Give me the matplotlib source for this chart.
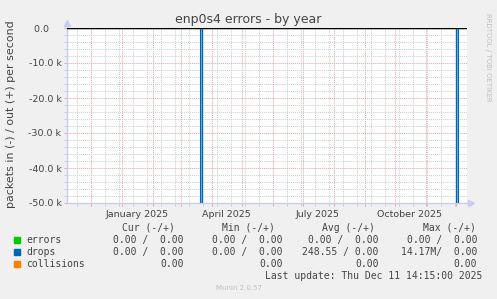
import matplotlib
matplotlib.use('Agg')
import matplotlib.pyplot as plt
import pandas as pd

title = 'enp0s4 errors - by year'
ylabel = 'packets in (-) / out (+) per second'

# drops, inbound direction (drawn negative), sampled per day
drops_times = ['2024-11-07 00:00', '2025-03-20 14:00', '2025-03-22 14:00',
               '2025-12-01 14:00', '2025-12-03 14:00', '2025-12-12 00:00']
drops_in = [0, -14.17e6, 0, -14.17e6, 0, 0]

# errors / collisions stay at zero the whole year
flat_times = ['2024-11-07 00:00', '2025-12-12 00:00']
errors_in = [0, 0]

y_ticks = [0, -10000, -20000, -30000, -40000, -50000]
y_labels = ['0.0    ', '-10.0 k', '-20.0 k', '-30.0 k', '-40.0 k', '-50.0 k']
x_label_dates = ['2025-01-16', '2025-04-16', '2025-07-16', '2025-10-16']
x_label_text = ['January 2025', 'April 2025', 'July 2025', 'October 2025']

series = ['errors', 'drops', 'collisions']
colors = ['#00cc00', '#0066b3', '#ff8000']
cur_vals = ['0.00 /  0.00', '0.00 /  0.00', '0.00']
min_vals = ['0.00 /  0.00', '0.00 /  0.00', '0.00']
avg_vals = ['0.00 /  0.00', '248.55 / 0.00', '0.00']
max_vals = ['0.00 /  0.00', '14.17M/  0.00', '0.00']
last_update = 'Last update: Thu Dec 11 14:15:00 2025'

W, H = 497, 299
x_start = pd.Timestamp('2025-01-01') - pd.Timedelta(days=54.7)
x_end = x_start + pd.Timedelta(days=400)

fig = plt.figure(figsize=(W / 100, H / 100), dpi=100)
fig.patch.set_facecolor('#f0f0f0')
ax = fig.add_axes([67 / W, (H - 203) / H, 400 / W, 175 / H])
ax.set_facecolor('#ffffff')

txt = '#444444'
mgrid = '#f0a0a0'
grid = '#cccccc'
axis_c = '#c8ccf2'

ax.set_xlim(x_start, x_end)
ax.set_ylim(-50000, 0)

months = pd.date_range('2024-12-01', '2025-12-01', freq='MS')
minor = pd.date_range('2024-11-17', '2025-12-12', freq='14D')
ax.set_xticks(months)
ax.set_xticks(minor, minor=True)
ax.set_xticklabels([])
ax.set_yticks(y_ticks)
ax.set_yticks(range(-50000, 1, 2000), minor=True)
ax.set_yticklabels(y_labels, fontsize=6.8, color=txt)

ax.grid(which='major', color=mgrid, linestyle=(0, (1, 1)), linewidth=0.7)
ax.grid(which='minor', color=grid, linestyle=(0, (1, 1)), linewidth=0.7)
ax.set_axisbelow(True)
ax.tick_params(which='major', length=2, width=0.7, color=mgrid, pad=2)
ax.tick_params(which='minor', length=2, width=0.7, color=grid)

for s in ax.spines.values():
    s.set_visible(False)
ax.plot([0, 0], [0, 1.015], color=axis_c, lw=1, transform=ax.transAxes, clip_on=False)
ax.plot([0, 1.003], [0, 0], color=axis_c, lw=1, transform=ax.transAxes, clip_on=False)
ax.plot([0], [1.03], marker='^', ms=4, color=axis_c, transform=ax.transAxes, clip_on=False)
ax.plot([1.01], [0], marker='>', ms=4, color=axis_c, transform=ax.transAxes, clip_on=False)

for d, t in zip(x_label_dates, x_label_text):
    ax.text(pd.Timestamp(d), -53300, t, ha='center', va='center',
            fontsize=6.8, color=txt, clip_on=False)

t_drops = pd.to_datetime(drops_times)
t_flat = pd.to_datetime(flat_times)
ax.fill_between(t_drops, drops_in, 0, step='post', color='#78aedb', lw=0)
ax.plot(t_drops, drops_in, drawstyle='steps-post', color=colors[1], lw=0.8)
ax.plot(t_flat, errors_in, color=colors[0], lw=0.8)
ax.axhline(0, color='#000000', lw=1)

ax.set_ylabel(ylabel, fontsize=7.9, color=txt)
ax.yaxis.set_label_coords(-51 / 400, (203 - 114) / 175)

fig.text(248.5 / W, 1 - 19 / H, title, ha='center', va='center', fontsize=9, color=txt)
fig.text(488 / W, 1 - 57 / H, 'RRDTOOL / TOBI OETIKER', rotation=270, ha='center',
         va='center', fontsize=5, color='#c0c0c0')

mono = 'DejaVu Sans Mono'


def px(x, y):
    return x / W, 1 - y / H


heads = ['Cur (-/+)', 'Min (-/+)', 'Avg (-/+)', 'Max (-/+)']
head_x = [121.7, 222.3, 322.3, 422.7]
for h, x in zip(heads, head_x):
    fig.text(*px(x, 228), h, ha='left', va='center', family=mono, fontsize=7, color=txt)

row_y = [240, 252, 264]
col_right = [183.8, 282.8, 378.8, 477.2]
for i, name in enumerate(series):
    y = row_y[i]
    fig.patches.append(plt.Rectangle(px(14, y + 3), 6 / W, 6 / H, color=colors[i],
                                     transform=fig.transFigure, figure=fig))
    fig.text(*px(26, y), name, ha='left', va='center', family=mono, fontsize=7, color=txt)
    for xr, v in zip(col_right, [cur_vals[i], min_vals[i], avg_vals[i], max_vals[i]]):
        fig.text(*px(xr, y), v, ha='right', va='center', family=mono, fontsize=7, color=txt)

fig.text(*px(482.5, 276), last_update, ha='right', va='center', family=mono, fontsize=7, color=txt)
fig.text(*px(239.5, 288), 'Munin 2.0.57', ha='center', va='center', fontsize=5, color='#c0c0c0')

fig.savefig('out.png', dpi=100, facecolor=fig.get_facecolor())
